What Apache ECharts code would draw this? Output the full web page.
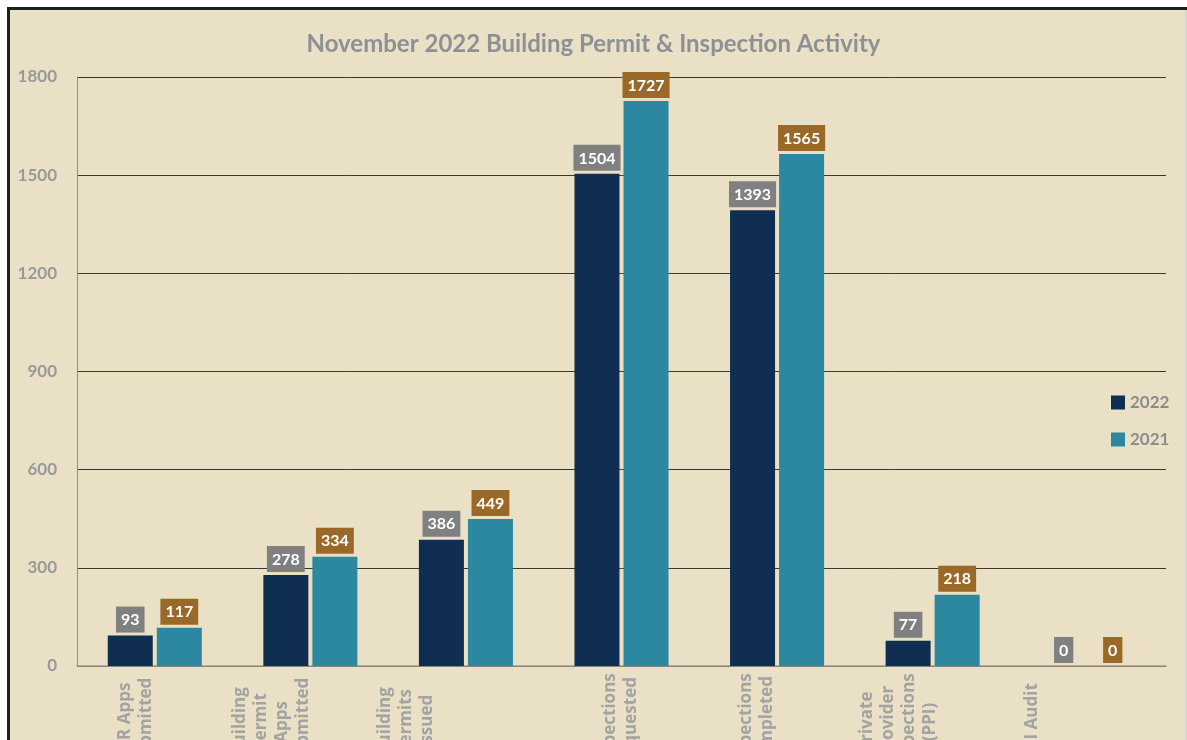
<!DOCTYPE html>
<html>
<head>
<meta charset="utf-8">
<script src="https://cdn.jsdelivr.net/npm/echarts@6/dist/echarts.min.js"></script>
<style>
html,body{margin:0;padding:0;background:#ffffff;}
#chart{width:1187px;height:740px;}
</style>
</head>
<body>
<div id="chart"></div>
<script>
const titleText = 'November 2022 Building Permit & Inspection Activity';
const categories = [
  'PCR Apps\nSubmitted',
  'Building\nPermit\nApps\nSubmitted',
  'Building\nPermits\nIssued',
  'Inspections\nRequested',
  'Inspections\nCompleted',
  'Private\nProvider\nInspections\n(PPI)',
  'PPI Audit'
];
const labelShift = [19, 39, 60, 1, 20, 34, 56];
const seriesNames = ['2022', '2021'];
const values2022 = [93, 278, 386, 1504, 1393, 77, 0];
const values2021 = [117, 334, 449, 1727, 1565, 218, 0];
const yTicks = [0, 300, 600, 900, 1200, 1500, 1800];

const chart = echarts.init(document.getElementById('chart'), null, {renderer: 'canvas'});
const bg = '#e9e0c5';
const labelFont = 'Lato, "Open Sans", sans-serif';

function valueLabel(color) {
  return {
    show: true,
    position: 'top',
    distance: 3,
    color: '#ffffff',
    fontFamily: labelFont,
    fontWeight: 'bold',
    fontSize: 16,
    lineHeight: 17,
    backgroundColor: color,
    padding: [5, 5, 4, 5]
  };
}

const gapRich = {};
labelShift.forEach((s, i) => {
  gapRich['g' + i] = {lineHeight: Math.max(1, 2 * s), fontSize: 1, color: 'rgba(0,0,0,0)'};
});

const option = {
  backgroundColor: bg,
  animation: false,
  title: {
    text: titleText,
    left: 'center',
    top: 27,
    textStyle: {
      color: '#8d9095',
      fontFamily: labelFont,
      fontWeight: 'bold',
      fontSize: 24
    }
  },
  legend: {
    orient: 'vertical',
    left: 1106,
    top: 389,
    itemWidth: 14,
    itemHeight: 14,
    itemGap: 20,
    icon: 'rect',
    textStyle: {
      color: '#8c8c8c',
      fontFamily: labelFont,
      fontWeight: 'bold',
      fontSize: 17
    },
    data: seriesNames
  },
  grid: {left: 77, right: 21, top: 77, bottom: 74, containLabel: false, outerBoundsMode: 'none'},
  xAxis: {
    type: 'category',
    data: categories.map((c) => ({
      value: c,
      textStyle: {align: 'center', verticalAlign: 'middle'}
    })),
    axisLine: {show: true, lineStyle: {color: '#a29f91', width: 1.5}},
    axisTick: {show: false},
    axisLabel: {
      interval: 0,
      rotate: 90,
      align: 'center',
      verticalAlign: 'middle',
      margin: 56,
      lineHeight: 21,
      hideOverlap: false,
      color: '#a3a3a3',
      fontFamily: '"Open Sans", sans-serif',
      fontWeight: 'bold',
      fontSize: 17,
      formatter: function (v, i) { return v + '\n{g' + i + '| }'; },
      rich: gapRich
    }
  },
  yAxis: {
    type: 'value',
    min: yTicks[0],
    max: yTicks[yTicks.length - 1],
    interval: 300,
    axisLine: {show: true, lineStyle: {color: '#8c8c8c', width: 1}},
    axisTick: {show: false},
    axisLabel: {
      margin: 20,
      color: '#999999',
      fontFamily: labelFont,
      fontWeight: 'bold',
      fontSize: 17,
      formatter: function (v) { return String(v); }
    },
    splitLine: {show: true, lineStyle: {color: '#3a3832', width: 1}}
  },
  series: [
    {
      name: seriesNames[0],
      type: 'bar',
      data: values2022,
      barWidth: 45,
      barGap: '9%',
      itemStyle: {color: '#0f2e51'},
      label: valueLabel('#808080')
    },
    {
      name: seriesNames[1],
      type: 'bar',
      data: values2021,
      barWidth: 45,
      itemStyle: {color: '#2b88a0'},
      label: valueLabel('#9a6827')
    }
  ],
  graphic: [
    {type: 'rect', shape: {x: 0, y: 0, width: 1187, height: 7}, style: {fill: '#ffffff'}, silent: true},
    {type: 'rect', shape: {x: 0, y: 0, width: 7, height: 740}, style: {fill: '#ffffff'}, silent: true},
    {type: 'rect', shape: {x: 7, y: 7, width: 1180, height: 3}, style: {fill: '#1e1e1e'}, silent: true},
    {type: 'rect', shape: {x: 7, y: 7, width: 3, height: 733}, style: {fill: '#1e1e1e'}, silent: true},
    {type: 'rect', shape: {x: 1185, y: 10, width: 2, height: 730}, style: {fill: '#d6d6d6'}, silent: true}
  ]
};
chart.setOption(option);
</script>
</body>
</html>
